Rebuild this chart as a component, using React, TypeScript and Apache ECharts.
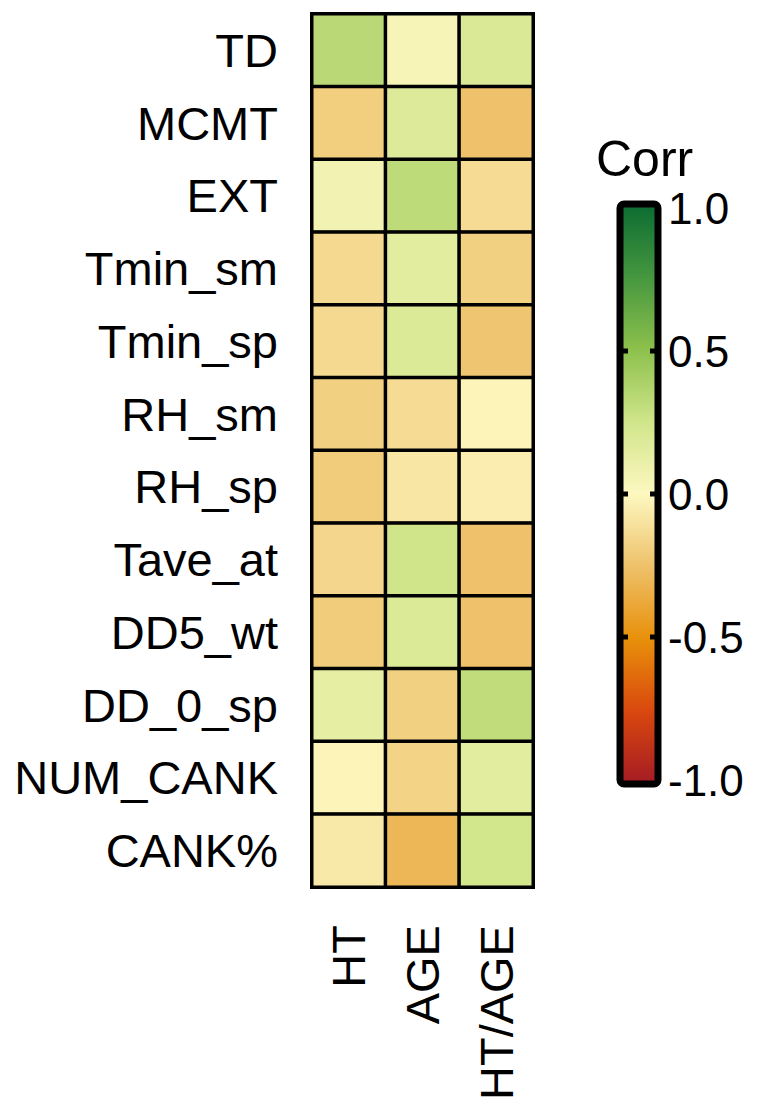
import React, { useEffect, useRef } from "react";
import * as echarts from "echarts";

// Predictors (rows, top to bottom) and tree traits (columns)
const rowNames = [
  "TD",
  "MCMT",
  "EXT",
  "Tmin_sm",
  "Tmin_sp",
  "RH_sm",
  "RH_sp",
  "Tave_at",
  "DD5_wt",
  "DD_0_sp",
  "NUM_CANK",
  "CANK%",
];
const colNames = ["HT", "AGE", "HT/AGE"];

// Correlation coefficients per trait, in row order
const corrHT = [0.33, -0.19, 0.06, -0.14, -0.14, -0.18, -0.2, -0.15, -0.2, 0.13, -0.02, -0.07];
const corrAGE = [0.04, 0.18, 0.32, 0.15, 0.19, -0.13, -0.08, 0.25, 0.19, -0.18, -0.17, -0.3];
const corrHTAGE = [0.2, -0.25, -0.13, -0.18, -0.23, -0.02, -0.05, -0.25, -0.25, 0.31, 0.15, 0.24];

// Colour scale from -1 to 1 (evenly spaced stops)
const scaleColors = [
  "#A51B24",
  "#D9480F",
  "#E8900A",
  "#EEC16A",
  "#FDF8C0",
  "#D0E58A",
  "#8CC04C",
  "#45973F",
  "#0B6B31",
];
const barTicks = [1.0, 0.5, 0.0, -0.5, -1.0];

const FONT = "'Liberation Sans', Arial, Helvetica, sans-serif";

export default function App() {
  const ref = useRef<HTMLDivElement>(null);

  useEffect(() => {
    if (!ref.current) return;
    const chart = echarts.init(ref.current, undefined, { renderer: "svg" });

    const cols = [corrHT, corrAGE, corrHTAGE];
    const data: [number, number, number][] = [];
    cols.forEach((vals, ci) => {
      vals.forEach((v, ri) => data.push([ci, ri, v]));
    });

    // Colour bar geometry
    const barX = 620;
    const barW = 38;
    const barTop = 208;
    const barBottom = 780;
    const yOf = (v: number) => barTop + ((1 - v) / 2) * (barBottom - barTop);

    const gradStops = scaleColors
      .slice()
      .reverse()
      .map((c, i) => ({ offset: i / (scaleColors.length - 1), color: c }));

    const graphics: any[] = [
      {
        type: "text",
        x: 596,
        y: 159,
        style: { text: "Corr", font: `50px ${FONT}`, fill: "#000", verticalAlign: "middle" },
      },
      {
        type: "rect",
        shape: { x: barX, y: barTop - 4, width: barW, height: barBottom - barTop + 8, r: 4 },
        style: {
          fill: new echarts.graphic.LinearGradient(0, 0, 0, 1, gradStops),
          stroke: "#000",
          lineWidth: 7,
        },
        z: 10,
      },
    ];
    barTicks.forEach((t) => {
      const y = yOf(t);
      if (Math.abs(t) < 1) {
        graphics.push(
          { type: "rect", shape: { x: barX + 3, y: y - 2.5, width: 5, height: 5 }, style: { fill: "#000" }, z: 11 },
          { type: "rect", shape: { x: barX + barW - 8, y: y - 2.5, width: 5, height: 5 }, style: { fill: "#000" }, z: 11 }
        );
      }
      graphics.push({
        type: "text",
        x: 668,
        y,
        style: {
          text: t.toFixed(1),
          font: `44px ${FONT}`,
          fill: "#000",
          verticalAlign: "middle",
          align: "left",
        },
        z: 11,
      });
    });

    chart.setOption({
      animation: false,
      backgroundColor: "#fff",
      grid: {
        left: 312,
        top: 14,
        width: 221,
        height: 882,
        show: true,
        borderColor: "#000",
        borderWidth: 4,
        backgroundColor: "transparent",
      },
      xAxis: {
        type: "category",
        data: colNames,
        axisLine: { show: false },
        axisTick: { show: false },
        splitLine: { show: false },
        axisLabel: {
          rotate: 90,
          margin: 38,
          fontSize: 47,
          fontFamily: FONT,
          color: "#000",
        },
      },
      yAxis: {
        type: "category",
        data: rowNames,
        inverse: true,
        axisLine: { show: false },
        axisTick: { show: false },
        splitLine: { show: false },
        axisLabel: {
          margin: 34,
          fontSize: 47,
          fontFamily: FONT,
          color: "#000",
        },
      },
      visualMap: {
        show: false,
        type: "continuous",
        min: -1,
        max: 1,
        dimension: 2,
        inRange: { color: scaleColors },
      },
      series: [
        {
          type: "heatmap",
          data,
          itemStyle: { borderColor: "#000", borderWidth: 3.5 },
          emphasis: { disabled: true },
        },
      ],
      graphic: graphics,
    });

    return () => chart.dispose();
  }, []);

  return (
    <div
      ref={ref}
      style={{ position: "fixed", left: 0, top: 0, width: 757, height: 1103, background: "#fff" }}
    />
  );
}
